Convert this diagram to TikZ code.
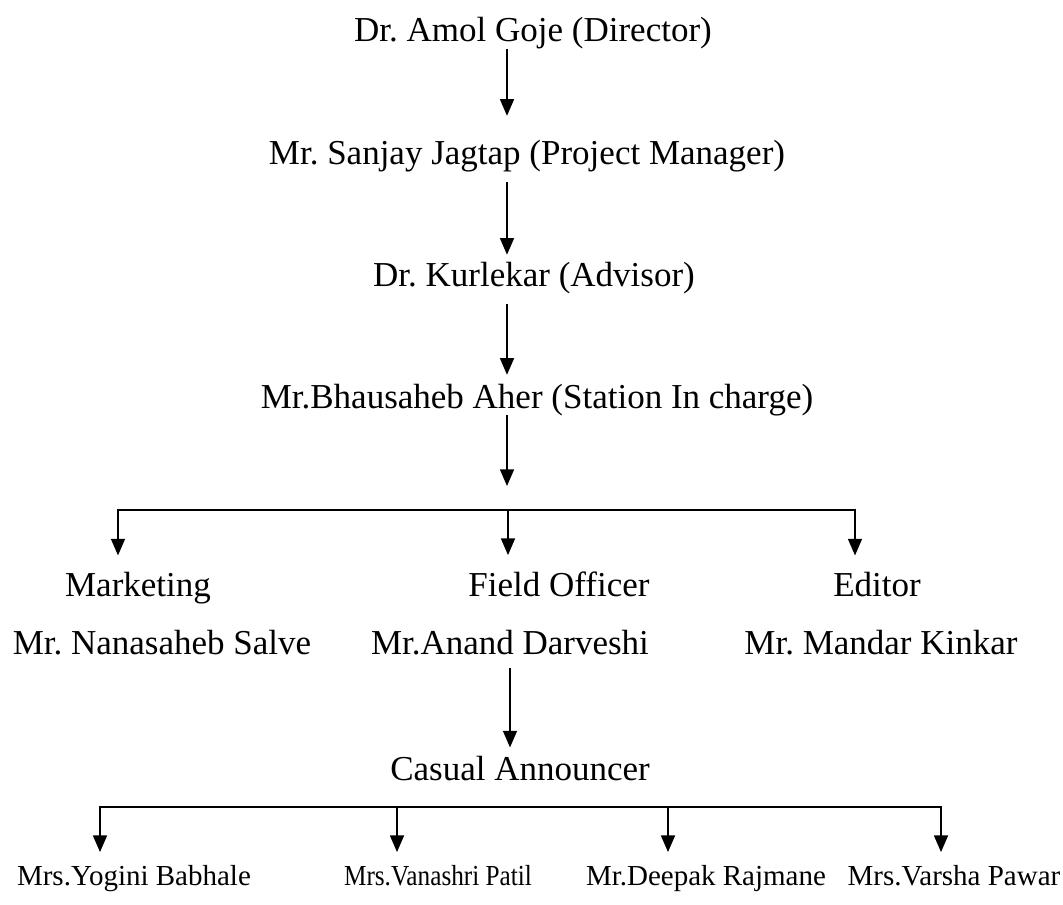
\documentclass[tikz,border=0pt]{standalone}
\usepackage{fontspec}
\setmainfont{Liberation Serif}
\usetikzlibrary{arrows.meta}
\frenchspacing
\begin{document}
\begin{tikzpicture}[x=0.75pt, y=-0.75pt,
    lbl/.style={inner sep=0pt, anchor=base, font=\fontsize{26.25}{30}\selectfont},
    sml/.style={inner sep=0pt, anchor=base, font=\fontsize{21.75}{26}\selectfont},
    arr/.style={-{Triangle[width=10.5pt, length=12.5pt]}, line width=1.2pt, line cap=rect},
    bar/.style={line width=1.2pt, line cap=rect}]
    \useasboundingbox (0,0) rectangle (1063,905);

    % Chain of command
    \node[lbl] (dir) at (533,42) {Dr. Amol Goje (Director)};
    \node[lbl] (pm)  at (527,165) {Mr. Sanjay Jagtap (Project Manager)};
    \node[lbl] (adv) at (534,287) {Dr. Kurlekar (Advisor)};
    \node[lbl] (stn) at (537,408) {Mr.Bhausaheb Aher (Station In charge)};

    \coordinate (sp) at (507,0);
    \draw[arr, shorten >=18.5pt] (dir.south -| sp) -- (pm.north -| sp);
    \draw[arr, shorten <=7.7pt, shorten >=5.8pt] (pm.south -| sp) -- (adv.north -| sp);
    \draw[arr, shorten <=7.7pt, shorten >=6.5pt] (adv.south -| sp) -- (stn.north -| sp);
    \coordinate (j1) at (507,486);
    \draw[arr] (stn.south -| sp) -- (j1);

    % Departments
    \node[lbl] (mkt)   at (138,596) {Marketing};
    \node[lbl] (salve) at (162,654) {Mr. Nanasaheb Salve};
    \node[lbl] (fo)    at (559,596) {Field Officer};
    \node[lbl] (darv)  at (510,654) {Mr.Anand Darveshi};
    \node[lbl] (ed)    at (877,596) {Editor};
    \node[lbl] (kink)  at (881,654) {Mr. Mandar Kinkar};

    \coordinate (bl) at (118,510);
    \coordinate (bm) at (508,510);
    \coordinate (br) at (855,510);
    \draw[bar] (bl) -- (br);
    \draw[arr, shorten >=12pt] (bl) -- (mkt.north -| bl);
    \draw[arr, shorten >=12pt] (bm) -- (fo.north -| bm);
    \draw[arr, shorten >=12pt] (br) -- (ed.north -| br);

    % Announcers
    \node[lbl] (ca) at (520,780) {Casual Announcer};
    \coordinate (cx) at (510,0);
    \draw[arr, shorten <=10.5pt, shorten >=6pt] (darv.south -| cx) -- (ca.north -| cx);

    \node[sml] (yogini)   at (134,885) {Mrs.Yogini Babhale};
    \node[sml] (vanashri) at (438,885) {\scalebox{0.87}[1]{Mrs.Vanashri Patil}};
    \node[sml] (deepak)   at (706,885) {Mr.Deepak Rajmane};
    \node[sml] (varsha)   at (954,885) {Mrs.Varsha Pawar};

    \coordinate (c1) at (100,807);
    \coordinate (c2) at (397,807);
    \coordinate (c3) at (668,807);
    \coordinate (c4) at (941,807);
    \draw[bar] (c1) -- (c4);
    \foreach \c/\n in {c1/yogini, c2/vanashri, c3/deepak, c4/varsha}
        \draw[arr, shorten >=9.4pt] (\c) -- (\n.north -| \c);
\end{tikzpicture}
\end{document}
